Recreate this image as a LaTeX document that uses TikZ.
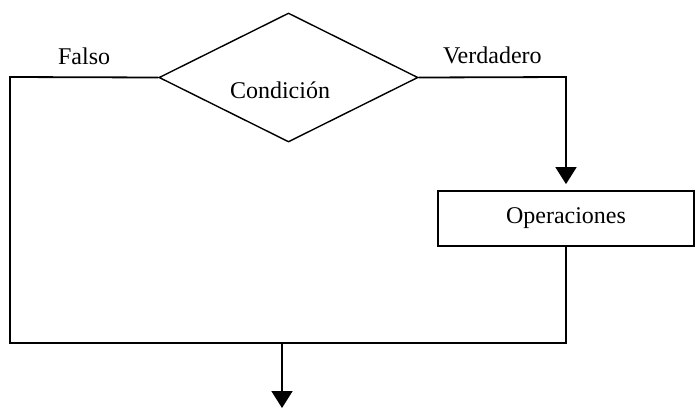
\documentclass[tikz,border=0pt]{standalone}
\usepackage{fontspec}
\setmainfont{Liberation Serif}
\usetikzlibrary{shapes.geometric}
\usetikzlibrary{arrows.meta}

\begin{document}
\begin{tikzpicture}[x=0.5pt, y=-0.5pt, line width=0.9pt, font=\fontsize{12}{14}\selectfont,
    flecha/.style={-{Triangle[length=8.5pt, width=10.5pt]}}]
    \useasboundingbox (0,0) rectangle (695,408);
\node[draw, diamond, inner sep=0pt, minimum width=129.5pt, minimum height=64.5pt, line width=0.7pt,
    label={[xshift=-4.25pt, yshift=-6.25pt]center:Condición}] (cond) at (288.5,77.5) {};
\node[draw, inner sep=0pt, minimum width=128pt, minimum height=27.5pt] (ops) at (566,218.5) {Operaciones};
\coordinate (izq) at (10,77);
\coordinate (der) at (566,77);
\coordinate (junta) at (282,343);
\coordinate (fin) at (282,408);
\draw (cond.west) -- node[above=6pt, inner sep=0pt] {Falso} (izq) -- (izq |- junta) -- (der |- junta) -- (ops.south);
\draw[flecha] (cond.east) -- node[above=6pt, inner sep=0pt] {Verdadero} (der) -- ([yshift=3pt]ops.north);
\draw[flecha] (junta) -- (fin);

\end{tikzpicture}
\end{document}
